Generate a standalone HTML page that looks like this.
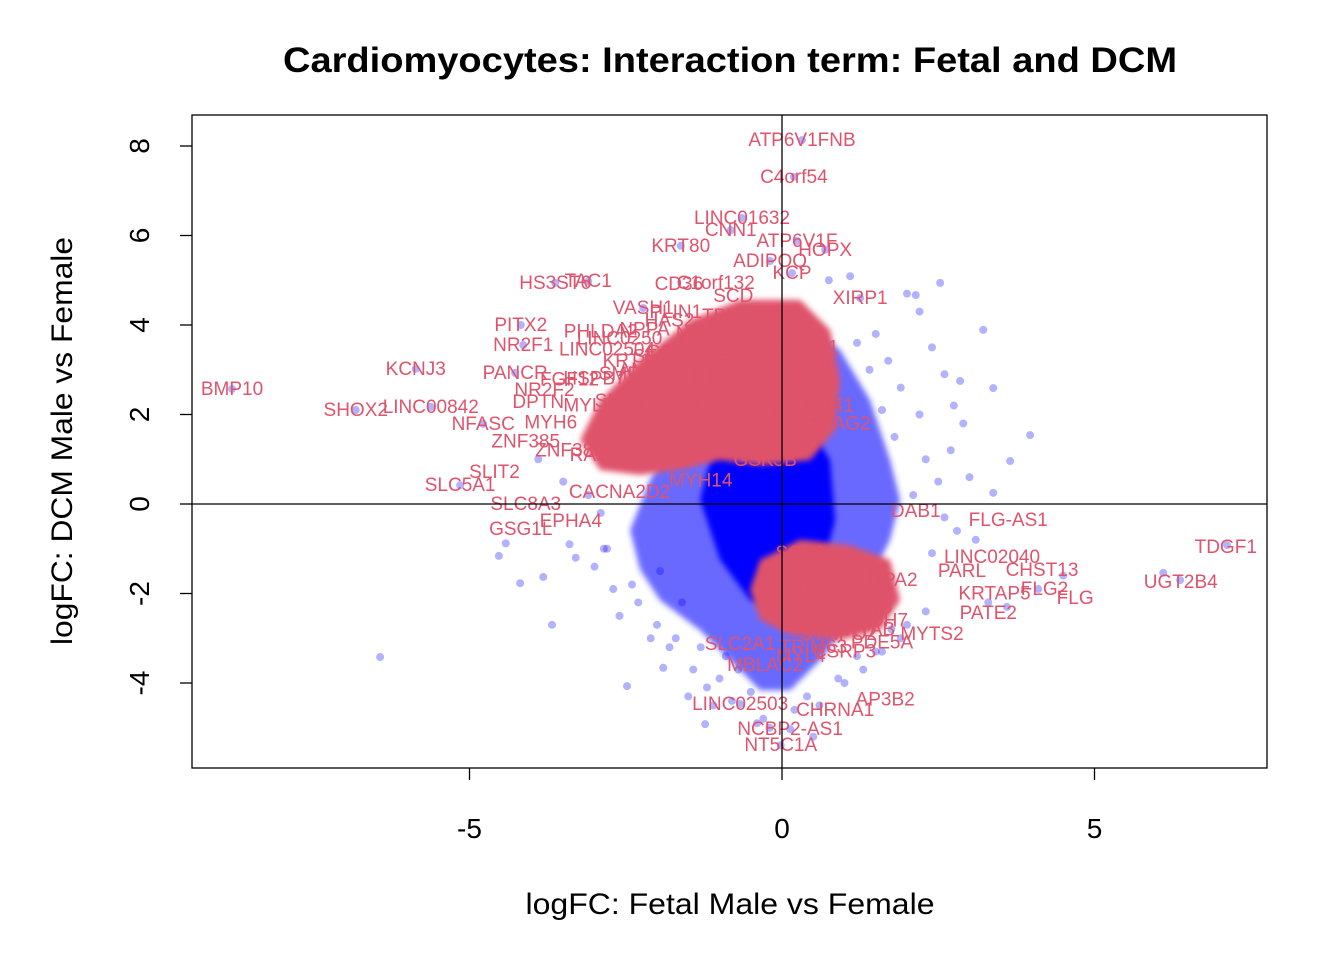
<!DOCTYPE html>
<html><head><meta charset="utf-8">
<style>
html,body{margin:0;padding:0;background:#fff;}
svg{display:block;font-family:"Liberation Sans",Arial,sans-serif;}
</style></head>
<body>
<svg id="chart" width="1344" height="960" viewBox="0 0 1344 960">
<text x="730" y="72" text-anchor="middle" font-size="35" font-weight="bold" textLength="894" lengthAdjust="spacingAndGlyphs">Cardiomyocytes: Interaction term: Fetal and DCM</text>
<text x="730" y="914" text-anchor="middle" font-size="30" textLength="409" lengthAdjust="spacingAndGlyphs">logFC: Fetal Male vs Female</text>
<text transform="translate(72,441) rotate(-90)" text-anchor="middle" font-size="30" textLength="408" lengthAdjust="spacingAndGlyphs">logFC: DCM Male vs Female</text>
<g id="plot"></g>
<rect x="192" y="115" width="1075" height="653" fill="none" stroke="#000" stroke-width="1.3"/>
<g id="axes"></g>
</svg>
<script>
const xTicks=[-5,0,5];
const yTicks=[-4,-2,0,2,4,6,8];
const xTickLabels=["-5","0","5"];
const yTickLabels=["-4","-2","0","2","4","6","8"];
// outer (sparse) density region of blue points, data units
const coreOuterX=[-0.67,0.29,0.93,1.41,1.73,1.89,1.73,1.41,1.09,0.61,0.13,-0.35,-0.83,-1.31,-1.95,-2.27,-2.43,-2.11,-1.63,-1.15];
const coreOuterY=[3.89,4.11,3.44,2.32,0.98,0.09,-0.80,-1.70,-2.59,-3.49,-4.16,-4.16,-3.49,-2.82,-2.15,-1.47,-0.58,0.54,1.65,2.77];
const coreInnerX=[-0.99,0.29,0.77,0.85,0.61,0.13,-0.51,-0.99,-1.31];
const coreInnerY=[1.88,2.10,0.98,-0.36,-1.70,-2.37,-2.15,-1.25,0.09];
const redUpX=[-2.91,-3.23,-2.91,-2.27,-1.47,-0.67,0.29,0.77,0.93,0.85,0.45,-0.35,-0.99,-1.63,-2.27];
const redUpY=[0.76,1.43,2.32,3.22,4.11,4.56,4.56,3.89,2.77,1.65,0.98,0.87,0.98,0.76,0.65];
const redLoX=[-0.03,0.29,1.09,1.73,1.89,1.57,0.93,0.13,-0.35,-0.51,-0.35];
const redLoY=[-1.03,-0.80,-0.92,-1.25,-2.15,-2.82,-3.04,-2.93,-2.59,-1.92,-1.25];
// individual blue points
const ptX=[-8.8,-6.43,-6.82,-5.86,-5.62,-5.15,-4.53,-4.42,-4.19,-3.82,-3.68,-3.4,-3.3,-3.0,-2.85,-2.7,-2.48,-2.6,-2.3,-2.1,-1.9,-1.7,-1.42,-1.5,-1.23,-1.1,-2.0,-2.9,-3.1,-2.4,-1.95,-1.6,-1.3,-1.0,-0.8,-0.3,-0.5,0.32,0.19,-0.64,-0.82,-1.62,0.24,0.69,-0.19,0.16,1.09,0.75,1.25,2.14,2.53,2.85,3.22,3.38,3.38,3.65,3.97,2.0,2.2,2.4,2.6,2.75,2.9,1.9,1.7,1.5,1.6,2.3,2.5,2.1,1.8,2.7,3.0,2.2,1.4,1.2,2.6,2.8,3.1,6.1,6.37,7.12,4.5,4.1,3.6,2.0,1.5,1.3,1.0,0.6,0.4,0.9,1.2,1.9,2.3,-0.2,0.2,-0.4,-1.2,-0.7,-2.8,-3.5,-3.9,-1.8,-0.9,1.6,1.75,-0.67,0.13,-0.02,2.4,3.3,0.5,-3.63,-3.1,-4.18,-4.14,-4.27,-4.78,-2.22];
const ptY=[2.57,-3.42,2.10,3.02,2.17,0.42,-1.16,-0.88,-1.77,-1.63,-2.7,-0.9,-1.2,-1.4,-1.0,-1.9,-4.07,-2.5,-2.2,-3.0,-3.66,-3.0,-3.7,-4.3,-4.92,-4.5,-2.7,-0.2,0.2,-1.8,-1.5,-2.2,-3.2,-3.9,-4.4,-4.8,-4.2,8.13,7.31,6.39,6.12,5.77,5.88,5.68,5.43,5.16,5.09,5.0,4.60,4.67,4.94,2.75,3.89,2.59,0.25,0.96,1.54,4.7,4.3,3.5,2.9,2.2,1.8,2.6,3.2,3.8,2.1,1.0,0.5,0.2,1.5,1.2,0.6,2.0,3.0,3.6,-0.3,-0.6,-0.8,-1.54,-1.7,-0.92,-1.6,-1.9,-2.3,-2.7,-3.3,-3.7,-4.0,-4.5,-4.3,-3.9,-3.4,-3.0,-2.4,-5.0,-4.6,-4.9,-4.1,-3.7,-1.0,0.5,1.0,-3.2,-3.4,-3.3,-2.8,-4.47,-5.03,-5.39,-1.1,-2.2,-5.2,4.94,4.98,4.00,3.55,2.93,1.79,4.38];
// gene labels
const lblText=["ATP6V1FNB","C4orf54","LINC01632","CNN1","KRT80","ATP6V1F","HOPX","ADIPOQ","KCP","HS3ST6","TAC1","C1orf132","CD36","SCD","XIRP1","VASH1","PLIN1","PITX2","PHLDA2","NR2F1","LINC02504","KCNJ3","PANCR","BMP10","FGF12","NR2F2","DPTN","SHOX2","LINC00842","NFASC","MYH6","ZNF385","SLC5A1","SLIT2","SLC8A3","GSG1L","EPHA4","CACNA2D2","MYH14","GSK3B","DAB1","FLG-AS1","TDGF1","UGT2B4","LINC02040","CHST13","PARL","FLG2","FLG","PATE2","KRTAP5","MYTS2","LINC02503","CHRNA1","AP3B2","NCBP2-AS1","NT5C1A","MBLAC2","SLC2A1","MYL4","LINC0250","NPPA","HAS2","NKX2","TBX5","LMO3","IRX4","AQP1","KRT19","SFRP1","COL21A1","PTPRZ1","LRRC10","ABRA","HSPB7","SMPX","ANKRD1","TNNI1","ITGA8","CORIN","FHL2","MYL7","SLN","NPPB","PRRX1","XIRP2","ACTN2","TTN","KLHL41","PRKAG2","CASQ2","RYR2","ZNF385B","RAB3A","SOX2","SGK1","DES","FZD7","PAPPA2","HCN4","COL9A1","HEY2","SLC2A3","FREM2","KCNA4","LGR5","PCDH7","ENO3","SYNPO2","CRYAB","TRIM63","CSRP3","PDE5A","GJA5"];
const lblX=[0.32,0.19,-0.64,-0.82,-1.62,0.24,0.69,-0.19,0.16,-3.63,-3.10,-1.06,-1.65,-0.78,1.25,-2.22,-1.70,-4.18,-2.90,-4.14,-2.80,-5.86,-4.27,-8.80,-3.40,-3.80,-3.90,-6.82,-5.62,-4.78,-3.70,-4.10,-5.15,-4.60,-4.10,-4.18,-3.38,-2.60,-1.30,-0.27,2.14,3.62,7.10,6.38,3.36,4.16,2.88,4.20,4.69,3.30,3.40,2.40,-0.67,0.85,1.65,0.13,-0.02,-0.27,-0.67,0.30,-2.6,-2.2,-1.8,-1.3,-0.9,-0.4,0.2,0.5,-2.4,-1.9,-1.5,-1.0,-0.5,0.3,-3.0,-2.5,-2.0,-1.6,-1.1,-0.6,0.4,-3.1,-2.7,-2.2,-1.7,-1.2,-0.8,-0.2,0.6,0.8,-2.0,-1.4,-3.3,-2.9,-2.3,0.3,0.8,1.3,1.6,0.5,1.0,1.4,1.2,0.2,0.7,1.1,1.5,0.4,0.9,1.3,0.5,1.0,1.6,0.2,2.0];
const lblY=[8.13,7.31,6.39,6.12,5.77,5.88,5.68,5.43,5.16,4.94,4.98,4.94,4.92,4.65,4.60,4.38,4.29,4.00,3.85,3.55,3.45,3.02,2.93,2.57,2.78,2.55,2.28,2.10,2.17,1.79,1.82,1.40,0.42,0.72,0.00,-0.56,-0.38,0.27,0.52,0.98,-0.16,-0.36,-0.96,-1.74,-1.18,-1.47,-1.50,-1.90,-2.10,-2.44,-2.00,-2.90,-4.47,-4.60,-4.37,-5.03,-5.39,-3.60,-3.13,-3.40,3.7,3.9,4.1,3.8,4.2,4.0,3.9,3.5,3.2,3.3,3.4,3.6,3.5,3.2,2.8,2.9,3.0,2.8,2.9,2.7,2.6,2.2,2.3,2.4,2.2,2.3,2.1,2.0,2.2,1.8,1.6,1.5,1.2,1.1,1.0,-1.1,-1.3,-1.5,-1.7,-1.9,-1.8,-2.0,-2.3,-2.1,-2.5,-2.4,-2.6,-2.7,-2.9,-2.8,-3.2,-3.3,-3.1,-1.5,-2.1];

const X0=192,X1=1267,Y0=115,Y1=768;
function sx(v){return 782+v*62.5;}
function sy(v){return 504-v*44.75;}
const NS="http://www.w3.org/2000/svg";
const plot=document.getElementById('plot');
const axes=document.getElementById('axes');
function mk(tag,attrs,parent){const e=document.createElementNS(NS,tag);for(const k in attrs)e.setAttribute(k,attrs[k]);parent.appendChild(e);return e;}
function poly(xs,ys){return xs.map((x,i)=>sx(x).toFixed(1)+','+sy(ys[i]).toFixed(1)).join(' ');}

const defs=mk('defs',{},document.getElementById('chart'));
const cp=mk('clipPath',{id:'clip'},defs);
mk('rect',{x:X0,y:Y0,width:X1-X0,height:Y1-Y0},cp);
const flt=mk('filter',{id:'blur',x:'-20%',y:'-20%',width:'140%',height:'140%'},defs);
mk('feGaussianBlur',{stdDeviation:'3'},flt);
plot.setAttribute('clip-path','url(#clip)');

let e=mk('polygon',{points:poly(coreOuterX,coreOuterY),fill:'#2a2aff','fill-opacity':'0.7',filter:'url(#blur)'},plot);


e=mk('polygon',{points:poly(coreInnerX,coreInnerY),fill:'#0000ff','fill-opacity':'1',filter:'url(#blur)'},plot);


for(let i=0;i<ptX.length;i++){
  const c=mk('circle',{cx:sx(ptX[i]),cy:sy(ptY[i]),r:4,fill:'#0000ff','fill-opacity':'0.3'},plot);
  
  
}
e=mk('polygon',{points:poly(redUpX,redUpY),fill:'#DF536B','fill-opacity':'1',filter:'url(#blur)'},plot);


e=mk('polygon',{points:poly(redLoX,redLoY),fill:'#DF536B','fill-opacity':'1',filter:'url(#blur)'},plot);


for(let i=0;i<lblText.length;i++){
  const t=mk('text',{x:sx(lblX[i]),y:sy(lblY[i])+6,'text-anchor':'middle','font-size':'19',fill:'#DF536B'},plot);
  t.textContent=lblText[i];
  
  
}
e=mk('line',{x1:sx(0),x2:sx(0),y1:Y0,y2:Y1,stroke:'#000','stroke-width':1.3},plot);


e=mk('line',{x1:X0,x2:X1,y1:sy(0),y2:sy(0),stroke:'#000','stroke-width':1.3},plot);



xTicks.forEach((v,i)=>{
  const l=mk('line',{x1:sx(v),x2:sx(v),y1:Y1,y2:Y1+12,stroke:'#000','stroke-width':1.3},axes);
  
  
  const t=mk('text',{x:sx(v),y:838,'text-anchor':'middle','font-size':'28'},axes);
  t.textContent=xTickLabels[i];
  
  
});
yTicks.forEach((v,i)=>{
  const l=mk('line',{x1:X0-12,x2:X0,y1:sy(v),y2:sy(v),stroke:'#000','stroke-width':1.3},axes);
  
  
  const t=mk('text',{'text-anchor':'middle','font-size':'28',transform:'translate(149,'+sy(v)+') rotate(-90)'},axes);
  t.textContent=yTickLabels[i];
  
  
});
</script>
</body></html>
